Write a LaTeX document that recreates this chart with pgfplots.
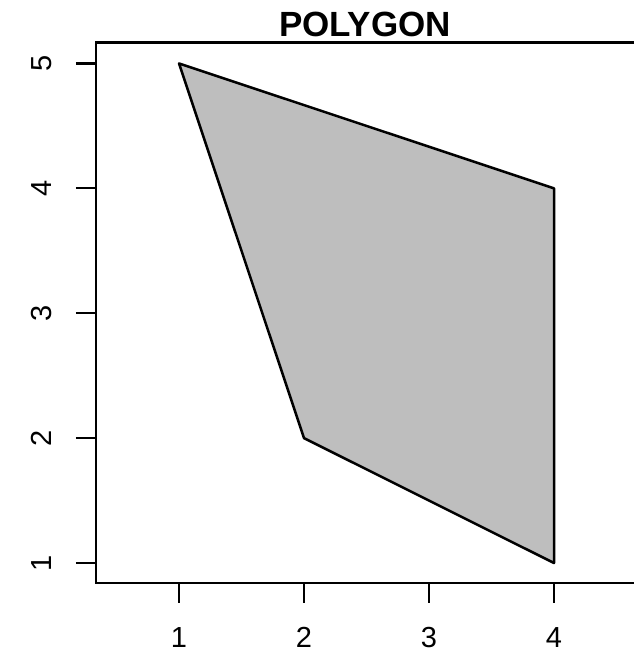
\documentclass[border=0pt]{standalone}
\usepackage{fontspec}
\setmainfont{Liberation Sans}
\usepackage{pgfplots}
\pgfplotsset{compat=1.18}
\definecolor{polyfill}{HTML}{BEBEBE}
\begin{document}
\begin{tikzpicture}
\useasboundingbox (0,0) rectangle (316.5pt,328pt);
\begin{axis}[
  at={(48pt,36.5pt)}, anchor=south west,
  scale only axis, width=271pt, height=270.25pt,
  xmin=0.336, xmax=4.672, ymin=0.84, ymax=5.168,
  xtick={1,2,3,4}, ytick={1,2,3,4,5},
  tick align=outside, tick pos=left,
  major tick length=10pt,
  axis line style={line width=1.1pt}, tick style={line width=1.1pt, black},
  /pgf/number format/assume math mode=true,
  ticklabel style={font=\fontsize{14.5}{17}\selectfont},
  xticklabel style={anchor=north, inner sep=0pt, yshift=-12pt},
  yticklabel style={rotate=90, anchor=south, inner sep=0pt},
  yticklabel shift=12pt,
  title={POLYGON},
  title style={at={(0.5,1)}, anchor=base, xshift=-1pt, yshift=-3pt, inner sep=0pt, font=\fontsize{17.5}{20}\selectfont\bfseries},
]
\addplot[fill=polyfill, draw=black, line width=1.25pt, line join=round] coordinates {(1,5) (2,2) (4,1) (4,4)} -- cycle;
\end{axis}
\end{tikzpicture}
\end{document}
